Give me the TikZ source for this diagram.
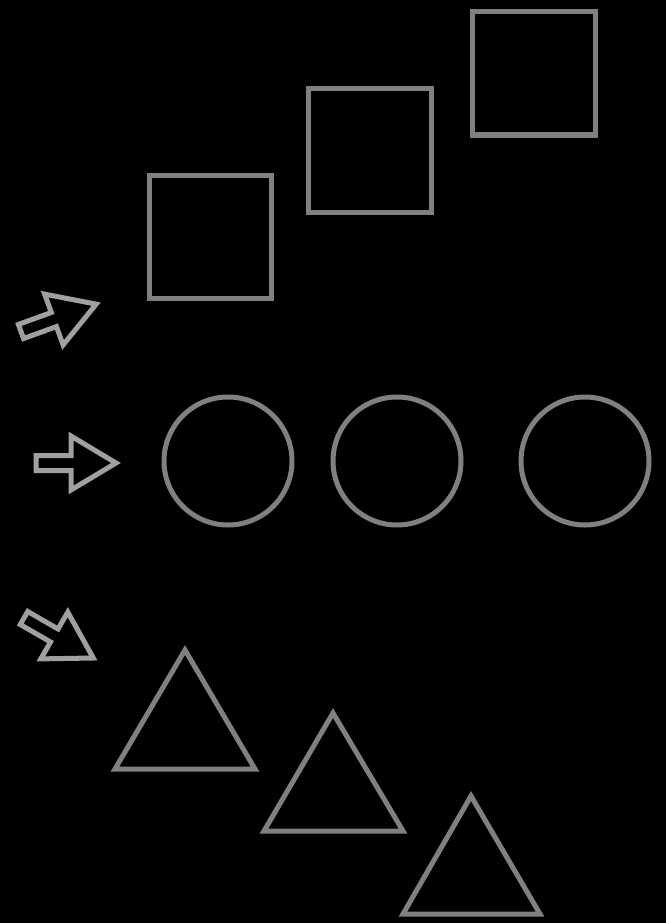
\documentclass[tikz,border=0pt]{standalone}
\begin{document}
\begin{tikzpicture}[x=1pt,y=-1pt,
  shapeline/.style={draw=shapegray,line width=5pt},
  arrowline/.style={draw=arrowgray,line width=5pt},
  ]
\definecolor{shapegray}{RGB}{128,128,128}
\definecolor{arrowgray}{RGB}{160,160,160}
\fill[black] (0,0) rectangle (666,923);
\useasboundingbox (0,0) rectangle (666,923);
% squares
\draw[shapeline] (149,175) rectangle (271,298);
\draw[shapeline] (308,89) rectangle (431,212);
\draw[shapeline] (472,12) rectangle (595,135);
% circles
\draw[shapeline] (228,461) circle[radius=64];
\draw[shapeline] (397,461) circle[radius=64];
\draw[shapeline] (585,461) circle[radius=64];
% triangles
\draw[shapeline] (185,650) -- (255,769) -- (115,769) -- cycle;
\draw[shapeline] (333,713) -- (403,831) -- (264,831) -- cycle;
\draw[shapeline] (471,796) -- (540,914) -- (403,914) -- cycle;
% arrows
\tikzset{arrowshape/.pic={\draw[arrowline] (0,-7.5) -- (35,-7.5) -- (35,-27) -- (80,0) -- (35,27) -- (35,7.5) -- (0,7.5) -- cycle;}}
\pic[shift={(21,331.5)},rotate=20] {arrowshape};
\pic[shift={(36,463)}] {arrowshape};
\pic[shift={(24,618)},rotate=-30] {arrowshape};
\end{tikzpicture}
\end{document}
